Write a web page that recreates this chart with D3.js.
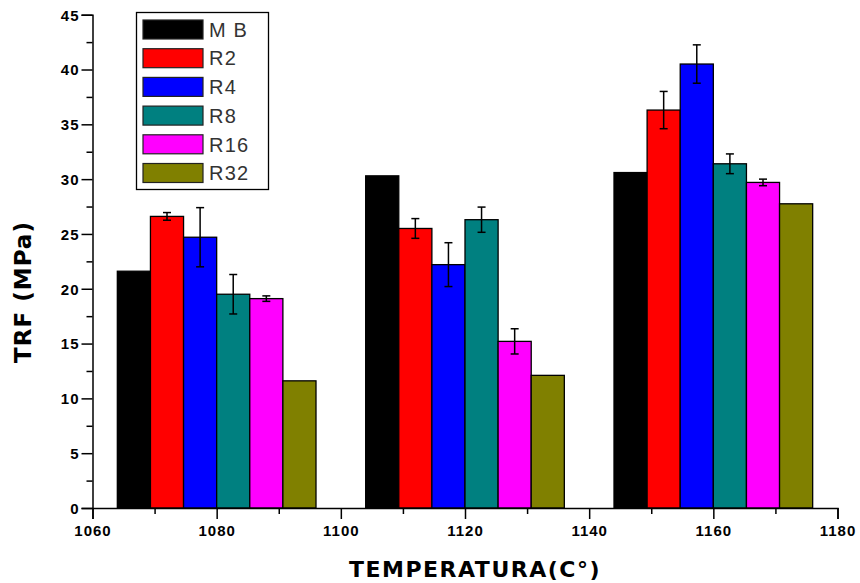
<!DOCTYPE html>
<html><head><meta charset="utf-8">
<script src="https://cdn.jsdelivr.net/npm/d3@7"></script>
<style>body{margin:0;background:#fff}svg{display:block}</style>
</head><body>
<script>
const temperatures = [1080, 1120, 1160];
const seriesNames = ["M B", "R2", "R4", "R8", "R16", "R32"];
const seriesColors = ["#000000", "#ff0000", "#0000ff", "#008080", "#ff00ff", "#808000"];
const valMB  = [21.6, 30.3, 30.6];
const valR2  = [26.6, 25.5, 36.3];
const valR4  = [24.7, 22.2, 40.5];
const valR8  = [19.5, 26.3, 31.4];
const valR16 = [19.1, 15.2, 29.7];
const valR32 = [11.6, 12.1, 27.75];
const errMB  = [0, 0, 0];
const errR2  = [0.35, 0.9, 1.7];
const errR4  = [2.7, 2.0, 1.75];
const errR8  = [1.8, 1.15, 0.9];
const errR16 = [0.25, 1.15, 0.3];
const errR32 = [0, 0, 0];
const xTicks = [1060, 1080, 1100, 1120, 1140, 1160, 1180];
const yTicks = [0, 5, 10, 15, 20, 25, 30, 35, 40, 45];
const xLabel = "TEMPERATURA(C°)";
const yLabel = "TRF (MPa)";

const values = [valMB, valR2, valR4, valR8, valR16, valR32];
const errors = [errMB, errR2, errR4, errR8, errR16, errR32];

const W = 860, H = 583;
const svg = d3.select("body").append("svg").attr("width", W).attr("height", H);

const x = d3.scaleLinear().domain([1060, 1180]).range([92.5, 837.5]);
const y = d3.scaleLinear().domain([0, 45]).range([508, 14.7]);

const groupWidth = 32; // in temperature units
const barW = groupWidth / seriesNames.length;

const data = [];
seriesNames.forEach((name, si) => {
  temperatures.forEach((t, ti) => {
    data.push({si, t, v: values[si][ti], e: errors[si][ti]});
  });
});

svg.append("g").selectAll("rect").data(data).join("rect")
  .attr("x", d => x(d.t - groupWidth / 2 + d.si * barW))
  .attr("y", d => y(d.v))
  .attr("width", d => x(d.t - groupWidth / 2 + (d.si + 1) * barW) - x(d.t - groupWidth / 2 + d.si * barW))
  .attr("height", d => y(0) - y(d.v))
  .attr("fill", d => seriesColors[d.si])
  .attr("stroke", "#000").attr("stroke-width", 1.3);

const eg = svg.append("g").attr("stroke", "#000").attr("stroke-width", 1.5);
data.filter(d => d.e > 0).forEach(d => {
  const cx = x(d.t - groupWidth / 2 + (d.si + 0.5) * barW);
  const y1 = y(d.v + d.e), y2 = y(d.v - d.e);
  eg.append("line").attr("x1", cx).attr("x2", cx).attr("y1", y1).attr("y2", y2);
  eg.append("line").attr("x1", cx - 4).attr("x2", cx + 4).attr("y1", y1).attr("y2", y1);
  eg.append("line").attr("x1", cx - 4).attr("x2", cx + 4).attr("y1", y2).attr("y2", y2);
});

const tickFont = "'Liberation Sans', Arial, sans-serif";
const xAxis = d3.axisBottom(x).tickValues(xTicks).tickFormat(d3.format("d")).tickSize(11).tickPadding(6);
svg.append("g").attr("transform", `translate(0,${y(0)})`).call(xAxis);
const xMinor = d3.axisBottom(x).tickValues(d3.range(1070, 1180, 20)).tickSize(6).tickFormat("");
svg.append("g").attr("transform", `translate(0,${y(0)})`).call(xMinor).select(".domain").remove();

const yAxis = d3.axisLeft(y).tickValues(yTicks).tickSize(11).tickPadding(2);
const gy = svg.append("g").attr("transform", `translate(${x(1060)},0)`).call(yAxis);
const yMinor = d3.axisLeft(y).tickValues(d3.range(2.5, 45, 5)).tickSize(6).tickFormat("");
svg.append("g").attr("transform", `translate(${x(1060)},0)`).call(yMinor).select(".domain").remove();

svg.selectAll(".domain").attr("stroke", "#000").attr("stroke-width", 1.5);
svg.selectAll(".tick line").attr("stroke", "#000").attr("stroke-width", 1.5);
svg.selectAll(".tick text").attr("font-family", tickFont).attr("font-weight", "bold")
  .attr("font-size", 15).attr("letter-spacing", 1).attr("fill", "#000");
gy.selectAll(".tick text").attr("dy", "0.36em");

svg.append("text").attr("x", 475).attr("y", 577).attr("text-anchor", "middle")
  .attr("font-family", "'DejaVu Sans', sans-serif").attr("font-weight", "bold")
  .attr("font-size", 22).attr("letter-spacing", 1.5).text(xLabel);
svg.append("text").attr("transform", "translate(31,292) rotate(-90)").attr("text-anchor", "middle")
  .attr("font-family", "'DejaVu Sans', sans-serif").attr("font-weight", "bold")
  .attr("font-size", 23).attr("letter-spacing", 1).text(yLabel);

const lg = svg.append("g");
lg.append("rect").attr("x", 136.5).attr("y", 12.5).attr("width", 132).attr("height", 177)
  .attr("fill", "#fff").attr("stroke", "#000").attr("stroke-width", 1.3);
seriesNames.forEach((name, i) => {
  const cy = 29.5 + i * 28.7;
  lg.append("rect").attr("x", 143).attr("y", cy - 9.5).attr("width", 60).attr("height", 19)
    .attr("fill", seriesColors[i]).attr("stroke", "#222").attr("stroke-width", 1.2);
  lg.append("text").attr("x", 209).attr("y", cy).attr("dy", "0.36em")
    .attr("font-family", "'Liberation Sans', Arial, sans-serif").attr("font-size", 20)
    .attr("letter-spacing", 1.2).attr("fill", "#333").text(name);
});
</script>
</body></html>
